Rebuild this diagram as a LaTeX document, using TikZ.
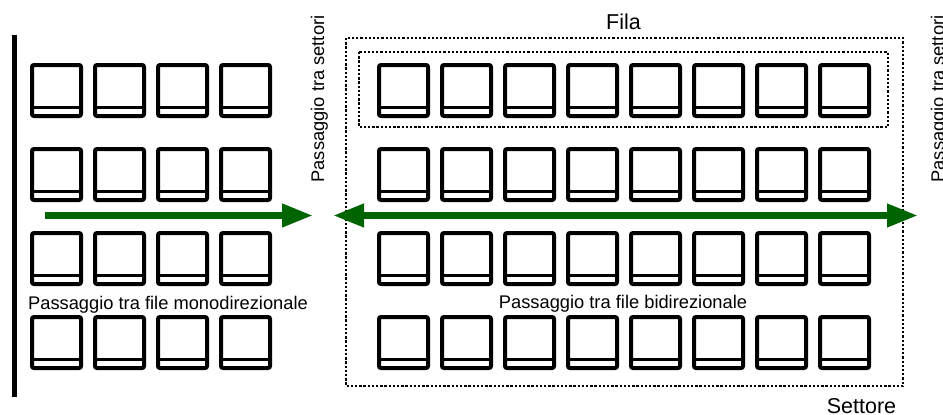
\documentclass[tikz,border=0pt]{standalone}
\usepackage{fontspec}
\setmainfont{Liberation Sans}
\usetikzlibrary{arrows.meta}
\definecolor{corsia}{HTML}{006400}
\newcommand{\poltrona}[2]{%
  \draw[seatbox] (#1+2,#2+2) rectangle (#1+51,#2+53);
  \draw[seatline] (#1+2,#2+44.5) -- (#1+51,#2+44.5);}
\tikzset{
  seatbox/.style={draw=black,line width=4pt,rounded corners=2pt},
  seatline/.style={draw=black,line width=3.5pt},
  bordo/.style={draw=black,line width=2.3pt,dash pattern=on 2.3pt off 1.9pt},
  freccia/.style={draw=corsia,line width=7pt},
  punta/.tip={Triangle[length=31pt,width=22pt]},
  etichetta/.style={inner sep=0pt,anchor=base,font=\fontsize{18.3}{22}\selectfont},
  titolo/.style={inner sep=0pt,anchor=base,font=\fontsize{21.5}{26}\selectfont}
}

\begin{document}
\begin{tikzpicture}[x=1pt,y=-1pt]
  \useasboundingbox (0,0) rectangle (943,415);
  \draw[line width=5pt] (14.5,35) -- (14.5,397);
  \foreach \r in {63,147,231,315} {
    \foreach \c in {30,93,156,219} {\poltrona{\c}{\r}}
    \foreach \c in {377,440,503,566,629,692,755,818} {\poltrona{\c}{\r}}
  }
  \draw[bordo] (346,38) rectangle (903,386);
  \draw[bordo] (359,52) rectangle (888,127);
  \coordinate (monoA) at (45,215.5);
  \coordinate (monoB) at (313,215.5);
  \coordinate (biA) at (333,215.5);
  \coordinate (biB) at (918,215.5);
  \draw[freccia,-punta] (monoA) -- (monoB);
  \draw[freccia,punta-punta] (biA) -- (biB);
  \node[etichetta] (mono) at (168,309) {Passaggio tra file monodirezionale};
  \node[etichetta] (bidi) at (623,308) {Passaggio tra file bidirezionale};
  \node[etichetta,rotate=90] (settoriL) at (324,99) {Passaggio tra settori};
  \node[etichetta,rotate=90] (settoriR) at (944,99) {Passaggio tra settori};
  \node[titolo] (fila) at (623.5,30) {Fila};
  \node[titolo] (settore) at (861.5,413) {Settore};
\end{tikzpicture}
\end{document}
